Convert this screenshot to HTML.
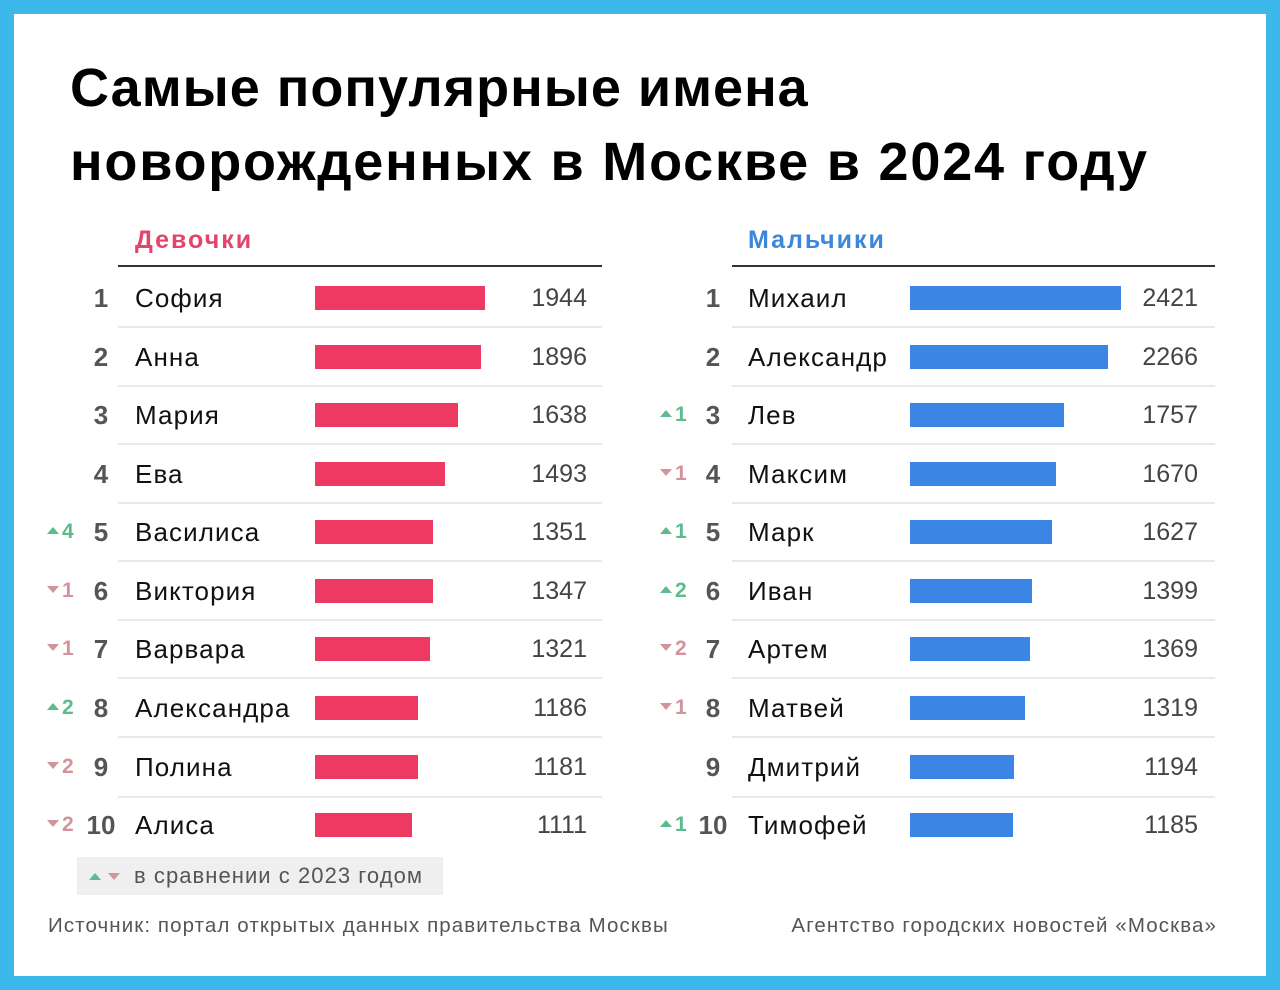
<!DOCTYPE html>
<html><head><meta charset="utf-8">
<style>
*{margin:0;padding:0;box-sizing:border-box}
html,body{width:1280px;height:990px;overflow:hidden;background:#3cb9ea}
body{position:relative;font-family:"Liberation Sans","DejaVu Sans",sans-serif}
.card{position:absolute;left:14px;top:14px;width:1252px;height:962px;background:#fff}
.a{position:absolute;white-space:nowrap}
.title{left:70px;top:51px;font-weight:bold;font-size:54px;line-height:74px;color:#000}
.hdr{font-weight:bold;font-size:25px;line-height:30px;top:225px;letter-spacing:2px}
.hl{height:2px;background:#333;top:265px}
.sep{height:2px;background:#e9e9e9}
.row{position:absolute;left:0;width:1280px;height:58px}
.row .a{line-height:58px;top:0}
.rk{font-weight:bold;font-size:26px;color:#555;text-align:center;width:40px}
.nm{font-size:26px;color:#111;letter-spacing:1.1px}
.bar{position:absolute;top:17px;height:24px}
.val{font-size:25px;color:#444;text-align:right;width:120px}
.chg{font-weight:bold;font-size:21px;width:40px}
.up{color:#5dba8c}.dn{color:#d3939b}
.tu{display:inline-block;width:0;height:0;border-left:6.5px solid transparent;border-right:6.5px solid transparent;border-bottom:7px solid #5dba8c;vertical-align:middle;margin-right:3px;position:relative;top:-2px}
.td{display:inline-block;width:0;height:0;border-left:6.5px solid transparent;border-right:6.5px solid transparent;border-top:7px solid #d3939b;vertical-align:middle;margin-right:3px;position:relative;top:-2px}
.foot{font-size:20.5px;color:#555;top:912px;line-height:28px;letter-spacing:1.1px}
</style></head><body>
<div class="card"></div>

<div class="a title"><span style="letter-spacing:1px">Самые популярные имена</span><br><span style="letter-spacing:1.8px">новорожденных в Москве в 2024 году</span></div>

<div class="a hdr" style="left:135px;color:#e2446c">Девочки</div>
<div class="a hdr" style="left:748px;color:#3d87da">Мальчики</div>
<div class="a hl" style="left:118px;width:484px"></div>
<div class="a hl" style="left:732px;width:483px"></div>

<!-- separators -->
<div class="a sep" style="left:118px;width:484px;top:326px"></div>
<div class="a sep" style="left:118px;width:484px;top:385px"></div>
<div class="a sep" style="left:118px;width:484px;top:443px"></div>
<div class="a sep" style="left:118px;width:484px;top:502px"></div>
<div class="a sep" style="left:118px;width:484px;top:560px"></div>
<div class="a sep" style="left:118px;width:484px;top:619px"></div>
<div class="a sep" style="left:118px;width:484px;top:677px"></div>
<div class="a sep" style="left:118px;width:484px;top:736px"></div>
<div class="a sep" style="left:118px;width:484px;top:796px"></div>
<div class="a sep" style="left:732px;width:483px;top:326px"></div>
<div class="a sep" style="left:732px;width:483px;top:385px"></div>
<div class="a sep" style="left:732px;width:483px;top:443px"></div>
<div class="a sep" style="left:732px;width:483px;top:502px"></div>
<div class="a sep" style="left:732px;width:483px;top:560px"></div>
<div class="a sep" style="left:732px;width:483px;top:619px"></div>
<div class="a sep" style="left:732px;width:483px;top:677px"></div>
<div class="a sep" style="left:732px;width:483px;top:736px"></div>
<div class="a sep" style="left:732px;width:483px;top:796px"></div>

<!-- rows -->
<div class="row" style="top:269px">
 <div class="a rk" style="left:81px">1</div><div class="a nm" style="left:135px">София</div>
 <div class="bar" style="left:315px;width:170px;background:#ee3a63"></div><div class="a val" style="left:467px">1944</div>
 <div class="a rk" style="left:693px">1</div><div class="a nm" style="left:748px">Михаил</div>
 <div class="bar" style="left:910px;width:211px;background:#3b85e4"></div><div class="a val" style="left:1078px">2421</div>
</div>
<div class="row" style="top:328px">
 <div class="a rk" style="left:81px">2</div><div class="a nm" style="left:135px">Анна</div>
 <div class="bar" style="left:315px;width:166px;background:#ee3a63"></div><div class="a val" style="left:467px">1896</div>
 <div class="a rk" style="left:693px">2</div><div class="a nm" style="left:748px">Александр</div>
 <div class="bar" style="left:910px;width:198px;background:#3b85e4"></div><div class="a val" style="left:1078px">2266</div>
</div>
<div class="row" style="top:386px">
 <div class="a rk" style="left:81px">3</div><div class="a nm" style="left:135px">Мария</div>
 <div class="bar" style="left:315px;width:143px;background:#ee3a63"></div><div class="a val" style="left:467px">1638</div>
 <div class="a chg up" style="left:660px"><span class="tu"></span>1</div>
 <div class="a rk" style="left:693px">3</div><div class="a nm" style="left:748px">Лев</div>
 <div class="bar" style="left:910px;width:154px;background:#3b85e4"></div><div class="a val" style="left:1078px">1757</div>
</div>
<div class="row" style="top:445px">
 <div class="a rk" style="left:81px">4</div><div class="a nm" style="left:135px">Ева</div>
 <div class="bar" style="left:315px;width:130px;background:#ee3a63"></div><div class="a val" style="left:467px">1493</div>
 <div class="a chg dn" style="left:660px"><span class="td"></span>1</div>
 <div class="a rk" style="left:693px">4</div><div class="a nm" style="left:748px">Максим</div>
 <div class="bar" style="left:910px;width:146px;background:#3b85e4"></div><div class="a val" style="left:1078px">1670</div>
</div>
<div class="row" style="top:503px">
 <div class="a chg up" style="left:47px"><span class="tu"></span>4</div>
 <div class="a rk" style="left:81px">5</div><div class="a nm" style="left:135px">Василиса</div>
 <div class="bar" style="left:315px;width:118px;background:#ee3a63"></div><div class="a val" style="left:467px">1351</div>
 <div class="a chg up" style="left:660px"><span class="tu"></span>1</div>
 <div class="a rk" style="left:693px">5</div><div class="a nm" style="left:748px">Марк</div>
 <div class="bar" style="left:910px;width:142px;background:#3b85e4"></div><div class="a val" style="left:1078px">1627</div>
</div>
<div class="row" style="top:562px">
 <div class="a chg dn" style="left:47px"><span class="td"></span>1</div>
 <div class="a rk" style="left:81px">6</div><div class="a nm" style="left:135px">Виктория</div>
 <div class="bar" style="left:315px;width:118px;background:#ee3a63"></div><div class="a val" style="left:467px">1347</div>
 <div class="a chg up" style="left:660px"><span class="tu"></span>2</div>
 <div class="a rk" style="left:693px">6</div><div class="a nm" style="left:748px">Иван</div>
 <div class="bar" style="left:910px;width:122px;background:#3b85e4"></div><div class="a val" style="left:1078px">1399</div>
</div>
<div class="row" style="top:620px">
 <div class="a chg dn" style="left:47px"><span class="td"></span>1</div>
 <div class="a rk" style="left:81px">7</div><div class="a nm" style="left:135px">Варвара</div>
 <div class="bar" style="left:315px;width:115px;background:#ee3a63"></div><div class="a val" style="left:467px">1321</div>
 <div class="a chg dn" style="left:660px"><span class="td"></span>2</div>
 <div class="a rk" style="left:693px">7</div><div class="a nm" style="left:748px">Артем</div>
 <div class="bar" style="left:910px;width:120px;background:#3b85e4"></div><div class="a val" style="left:1078px">1369</div>
</div>
<div class="row" style="top:679px">
 <div class="a chg up" style="left:47px"><span class="tu"></span>2</div>
 <div class="a rk" style="left:81px">8</div><div class="a nm" style="left:135px">Александра</div>
 <div class="bar" style="left:315px;width:103px;background:#ee3a63"></div><div class="a val" style="left:467px">1186</div>
 <div class="a chg dn" style="left:660px"><span class="td"></span>1</div>
 <div class="a rk" style="left:693px">8</div><div class="a nm" style="left:748px">Матвей</div>
 <div class="bar" style="left:910px;width:115px;background:#3b85e4"></div><div class="a val" style="left:1078px">1319</div>
</div>
<div class="row" style="top:738px">
 <div class="a chg dn" style="left:47px"><span class="td"></span>2</div>
 <div class="a rk" style="left:81px">9</div><div class="a nm" style="left:135px">Полина</div>
 <div class="bar" style="left:315px;width:103px;background:#ee3a63"></div><div class="a val" style="left:467px">1181</div>
 <div class="a rk" style="left:693px">9</div><div class="a nm" style="left:748px">Дмитрий</div>
 <div class="bar" style="left:910px;width:104px;background:#3b85e4"></div><div class="a val" style="left:1078px">1194</div>
</div>
<div class="row" style="top:796px">
 <div class="a chg dn" style="left:47px"><span class="td"></span>2</div>
 <div class="a rk" style="left:81px">10</div><div class="a nm" style="left:135px">Алиса</div>
 <div class="bar" style="left:315px;width:97px;background:#ee3a63"></div><div class="a val" style="left:467px">1111</div>
 <div class="a chg up" style="left:660px"><span class="tu"></span>1</div>
 <div class="a rk" style="left:693px">10</div><div class="a nm" style="left:748px">Тимофей</div>
 <div class="bar" style="left:910px;width:103px;background:#3b85e4"></div><div class="a val" style="left:1078px">1185</div>
</div>

<!-- legend -->
<div class="a" style="left:77px;top:857px;width:366px;height:38px;background:#efefef"></div>
<div class="a" style="left:89px;top:873px;width:0;height:0;border-left:6px solid transparent;border-right:6px solid transparent;border-bottom:7px solid #5dba8c"></div>
<div class="a" style="left:108px;top:873px;width:0;height:0;border-left:6px solid transparent;border-right:6px solid transparent;border-top:7px solid #d3939b"></div>
<div class="a" style="left:134px;top:861px;font-size:22px;line-height:30px;color:#555;letter-spacing:1.05px">в сравнении с 2023 годом</div>

<!-- footer -->
<div class="a foot" style="left:48px">Источник: портал открытых данных правительства Москвы</div>
<div class="a foot" style="right:63px">Агентство городских новостей «Москва»</div>
</body></html>
